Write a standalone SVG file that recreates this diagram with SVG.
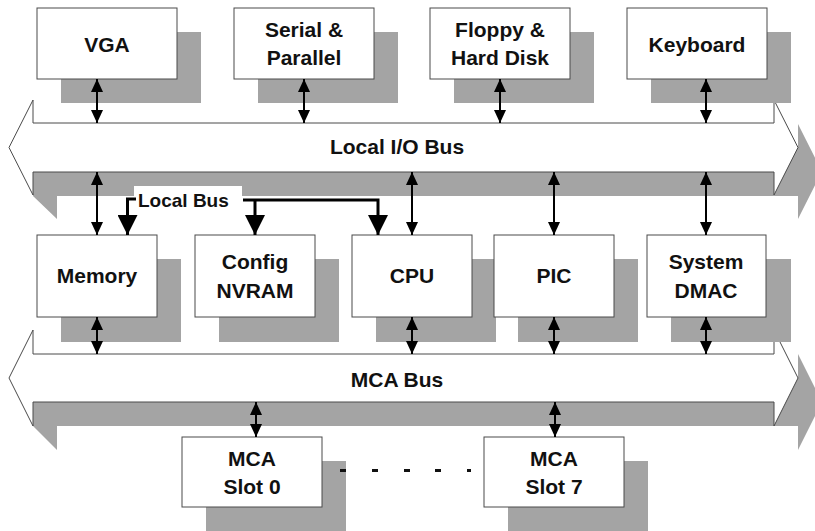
<svg xmlns="http://www.w3.org/2000/svg" width="815" height="531" viewBox="0 0 815 531">
<defs>
<style>
.sh{fill:#a4a4a4;}
.box{fill:#fff;stroke:#4a4a4a;stroke-width:1;}
.bus{fill:#fff;stroke:#4a4a4a;stroke-width:1;}
.t{font-family:"Liberation Sans",Arial,sans-serif;font-weight:bold;font-size:21px;fill:#111;text-anchor:middle;}
.lb{font-family:"Liberation Sans",Arial,sans-serif;font-weight:bold;font-size:19px;fill:#111;}
.dbl{stroke:#000;stroke-width:2;fill:none;marker-start:url(#sa);marker-end:url(#sa);}
.lbus{stroke:#000;stroke-width:3;fill:none;marker-end:url(#ba);}
</style>
<marker id="sa" markerUnits="userSpaceOnUse" markerWidth="13" markerHeight="12" refX="13" refY="6" orient="auto-start-reverse">
<path d="M0,0 L13,6 L0,12 Z" fill="#000"/>
</marker>
<marker id="ba" markerUnits="userSpaceOnUse" markerWidth="20" markerHeight="20" refX="20" refY="10" orient="auto">
<path d="M0,0 L20,10 L0,20 Z" fill="#000"/>
</marker>
</defs>
<rect width="815" height="531" fill="#fff"/>

<g id="local-io-bus">
<path class="sh" d="M33,147 H798 V124 L822,171.5 L798,219 V196 H57 V219 L33,196 Z"/>
<path class="bus" d="M33,100 V123 H774 V100 L798,147.5 L774,195 V172 H33 V195 L9,147.5 Z"/>
<text class="t" x="397" y="154">Local I/O Bus</text>
</g>

<g id="mca-bus">
<path class="sh" d="M33,378 H798 V354 L822,402 L798,450 V426 H57 V450 L33,426 Z"/>
<path class="bus" d="M33,330 V354 H774 V330 L798,378 L774,426 V402 H33 V426 L9,378 Z"/>
<text class="t" x="397" y="387">MCA Bus</text>
</g>

<g id="vga">
<rect class="sh" x="61" y="32" width="140" height="71"/>
<rect class="box" x="37" y="8" width="140" height="71"/>
<text class="t" x="107" y="52">VGA</text>
</g>
<g id="serial-parallel">
<rect class="sh" x="258" y="32" width="140" height="71"/>
<rect class="box" x="234" y="8" width="140" height="71"/>
<text class="t" x="304" y="37">Serial &amp;</text>
<text class="t" x="304" y="65">Parallel</text>
</g>
<g id="floppy-hard-disk">
<rect class="sh" x="454" y="32" width="140" height="71"/>
<rect class="box" x="430" y="8" width="140" height="71"/>
<text class="t" x="500" y="37">Floppy &amp;</text>
<text class="t" x="500" y="65">Hard Disk</text>
</g>
<g id="keyboard">
<rect class="sh" x="651" y="32" width="140" height="71"/>
<rect class="box" x="627" y="8" width="140" height="71"/>
<text class="t" x="697" y="52">Keyboard</text>
</g>

<g id="memory">
<rect class="sh" x="61" y="259" width="120" height="83"/>
<rect class="box" x="37" y="235" width="120" height="82"/>
<text class="t" x="97" y="283">Memory</text>
</g>
<g id="config-nvram">
<rect class="sh" x="219" y="259" width="120" height="83"/>
<rect class="box" x="195" y="235" width="120" height="82"/>
<text class="t" x="255" y="269">Config</text>
<text class="t" x="255" y="298">NVRAM</text>
</g>
<g id="cpu">
<rect class="sh" x="376" y="259" width="120" height="83"/>
<rect class="box" x="352" y="235" width="120" height="82"/>
<text class="t" x="412" y="283">CPU</text>
</g>
<g id="pic">
<rect class="sh" x="518" y="259" width="120" height="83"/>
<rect class="box" x="494" y="235" width="120" height="82"/>
<text class="t" x="554" y="283">PIC</text>
</g>
<g id="system-dmac">
<rect class="sh" x="671" y="259" width="120" height="83"/>
<rect class="box" x="647" y="235" width="119" height="82"/>
<text class="t" x="706" y="269">System</text>
<text class="t" x="706" y="298">DMAC</text>
</g>

<g id="mca-slot-0">
<rect class="sh" x="206" y="461" width="140" height="75"/>
<rect class="box" x="182" y="437" width="140" height="70"/>
<text class="t" x="252" y="466">MCA</text>
<text class="t" x="252" y="494">Slot 0</text>
</g>
<g id="mca-slot-7">
<rect class="sh" x="508" y="461" width="140" height="75"/>
<rect class="box" x="484" y="437" width="140" height="70"/>
<text class="t" x="554" y="466">MCA</text>
<text class="t" x="554" y="494">Slot 7</text>
</g>

<g id="ellipsis" fill="#111">
<rect x="340" y="469" width="6" height="3"/>
<rect x="372" y="469" width="6" height="3"/>
<rect x="404" y="469" width="6" height="3"/>
<rect x="435" y="469" width="6" height="3"/>
<rect x="467" y="469" width="4" height="3"/>
</g>

<g id="connectors">
<path class="dbl" d="M97,79 V123"/>
<path class="dbl" d="M304,79 V123"/>
<path class="dbl" d="M500,79 V123"/>
<path class="dbl" d="M706,79 V123"/>
<path class="dbl" d="M97,172 V235"/>
<path class="dbl" d="M412,172 V235"/>
<path class="dbl" d="M554,172 V235"/>
<path class="dbl" d="M706,172 V235"/>
<path class="dbl" d="M97,317 V354"/>
<path class="dbl" d="M412,317 V354"/>
<path class="dbl" d="M554,317 V354"/>
<path class="dbl" d="M706,317 V354"/>
<path class="dbl" d="M256,402 V437"/>
<path class="dbl" d="M555,402 V437"/>
<g id="local-bus">
<rect x="134" y="186" width="108" height="28" fill="#fff"/>
<path class="lbus" d="M136,199 H127.5 V235"/>
<path class="lbus" d="M243,200 H378 V235"/>
<path class="lbus" d="M255,200 V235"/>
<text class="lb" x="138" y="207">Local Bus</text>
</g>
</g>
</svg>
